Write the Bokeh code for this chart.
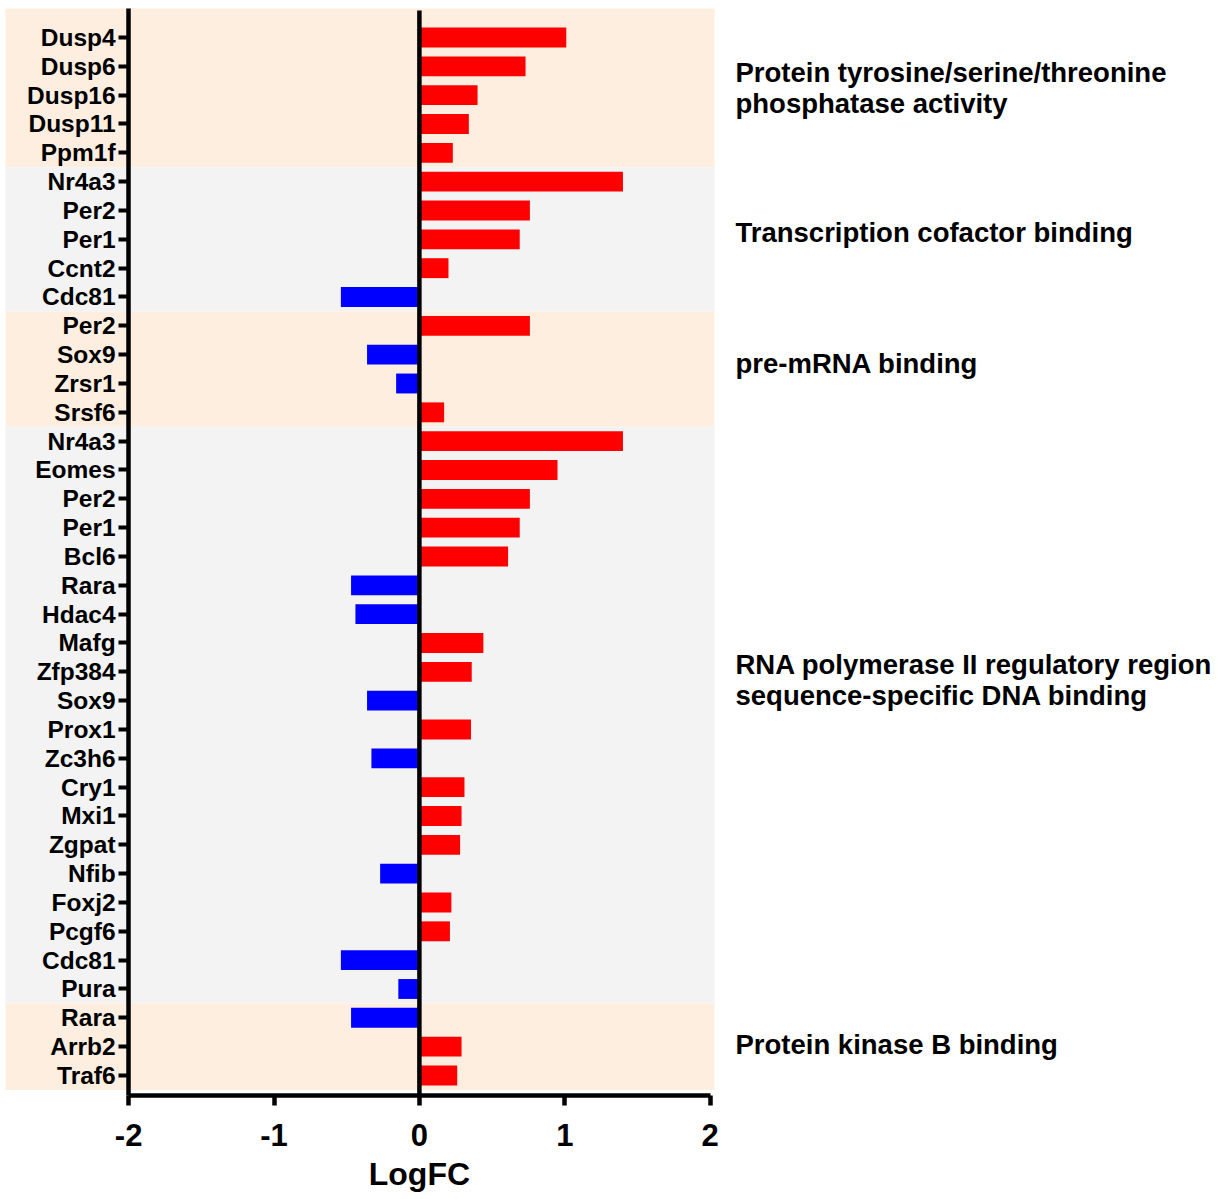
from bokeh.plotting import figure
from bokeh.models import LinearAxis, FixedTicker, Range1d, ColumnDataSource
from bokeh.core.properties import value
from bokeh.embed import file_html
from bokeh.resources import INLINE

# ---------------- data ----------------
genes = ["Dusp4", "Dusp6", "Dusp16", "Dusp11", "Ppm1f",
         "Nr4a3", "Per2", "Per1", "Ccnt2", "Cdc81",
         "Per2", "Sox9", "Zrsr1", "Srsf6",
         "Nr4a3", "Eomes", "Per2", "Per1", "Bcl6", "Rara", "Hdac4", "Mafg",
         "Zfp384", "Sox9", "Prox1", "Zc3h6", "Cry1", "Mxi1", "Zgpat", "Nfib",
         "Foxj2", "Pcgf6", "Cdc81", "Pura",
         "Rara", "Arrb2", "Traf6"]
logfc = [1.01, 0.73, 0.40, 0.34, 0.23,
         1.40, 0.76, 0.69, 0.20, -0.54,
         0.76, -0.36, -0.16, 0.17,
         1.40, 0.95, 0.76, 0.69, 0.61, -0.47, -0.44, 0.44,
         0.36, -0.36, 0.355, -0.33, 0.31, 0.29, 0.28, -0.27,
         0.22, 0.21, -0.54, -0.145,
         -0.47, 0.29, 0.26]
group_names = ["Protein tyrosine/serine/threonine\nphosphatase activity",
               "Transcription cofactor binding",
               "pre-mRNA binding",
               "RNA polymerase II regulatory region\nsequence-specific DNA binding",
               "Protein kinase B binding"]
group_sizes = [5, 5, 4, 20, 3]
x_ticks = [-2, -1, 0, 1, 2]
x_tick_labels = ["-2", "-1", "0", "1", "2"]
x_label = "LogFC"

# ---------------- layout ----------------
W, H = 1220, 1195
PX_X = 145.4          # px per LogFC unit
X0_PX = 418.9         # canvas x of LogFC = 0
PX_ROW = 28.833       # px per row
ROW0_PX = 37.0        # canvas y of first row
FONT = "Liberation Sans"
PEACH = "#FDEEDF"
GREY = "#F3F3F3"


def px_x(px):
    return (px - X0_PX) / PX_X


def px_y(px):
    return (px - ROW0_PX) / PX_ROW


x_start, x_end = px_x(0), px_x(W)
y_top, y_bottom = px_y(0), px_y(H)
band_top = px_y(8)
band_left = px_x(5)
band_right = px_x(714)
axis_y = px_y(1094.5)

p = figure(width=W, height=H, output_backend="svg", toolbar_location=None,
           x_axis_type=None, y_axis_type=None, min_border=0,
           x_range=Range1d(x_start, x_end), y_range=Range1d(y_bottom, y_top),
           background_fill_color="white", border_fill_color="white",
           outline_line_color=None)

# background bands per group
tops, bottoms, colors = [], [], []
start = 0
for i, n in enumerate(group_sizes):
    tops.append(band_top if i == 0 else start - 0.5)
    bottoms.append(start + n - 0.5)
    colors.append(PEACH if i % 2 == 0 else GREY)
    start += n
p.quad(left=band_left, right=band_right, top=tops, bottom=bottoms,
       fill_color=colors, line_color=None)

# bars
rows = list(range(len(genes)))
src = ColumnDataSource(dict(y=rows, v=logfc, gene=genes,
                            c=["#FF0000" if v > 0 else "#0000FF" for v in logfc]))
p.hbar(y="y", left=0, right="v", height=0.69, fill_color="c", line_color=None, source=src)

# zero line
p.segment(x0=[0], y0=[px_y(10)], x1=[0], y1=[axis_y], line_color="black", line_width=4.5)

# left axis (gene names)
yax = LinearAxis(fixed_location=-2, bounds=(band_top, axis_y),
                 ticker=FixedTicker(ticks=rows),
                 major_label_overrides={i: g for i, g in enumerate(genes)})
yax.axis_line_width = 4.5
yax.major_tick_line_width = 4
yax.major_tick_out = 10
yax.major_tick_in = 0
yax.minor_tick_line_color = None
yax.major_label_standoff = 3
yax.major_label_text_font = FONT
yax.major_label_text_font_style = "bold"
yax.major_label_text_font_size = "24.5px"
yax.major_label_text_color = "black"
p.add_layout(yax, "left")

# bottom axis
xax = LinearAxis(fixed_location=axis_y, bounds=(-2, 2),
                 ticker=FixedTicker(ticks=x_ticks),
                 major_label_overrides={t: s for t, s in zip(x_ticks, x_tick_labels)})
xax.axis_line_width = 4.5
xax.major_tick_line_width = 4.5
xax.major_tick_out = 10
xax.major_tick_in = 0
xax.minor_tick_line_color = None
xax.major_label_standoff = 19
xax.major_label_text_font = FONT
xax.major_label_text_font_style = "bold"
xax.major_label_text_font_size = "31px"
xax.major_label_text_color = "black"
p.add_layout(xax, "below")

# x axis title
p.text(x=[0], y=[px_y(1173)], text=[x_label], text_align="center",
       text_baseline="middle", text_font=value(FONT), text_font_style="bold",
       text_font_size="32px", text_color="black")

# group annotations
annot_center_px = [87.5, 232.0, 363.0, 679.5, 1044.0]   # canvas y of block centres
LINE_GAP = 31.0
lx, ly, lt = [], [], []
for name, cy in zip(group_names, annot_center_px):
    lines = name.split("\n")
    nl = len(lines)
    for k, t in enumerate(lines):
        lx.append(px_x(735))
        ly.append(px_y(cy + (k - (nl - 1) / 2) * LINE_GAP))
        lt.append(t)
p.text(x=lx, y=ly, text=lt, text_align="left", text_baseline="middle",
       text_font=value(FONT), text_font_style="bold", text_font_size="27.5px",
       text_color="black")

open("out.html", "w").write(file_html(p, INLINE))
